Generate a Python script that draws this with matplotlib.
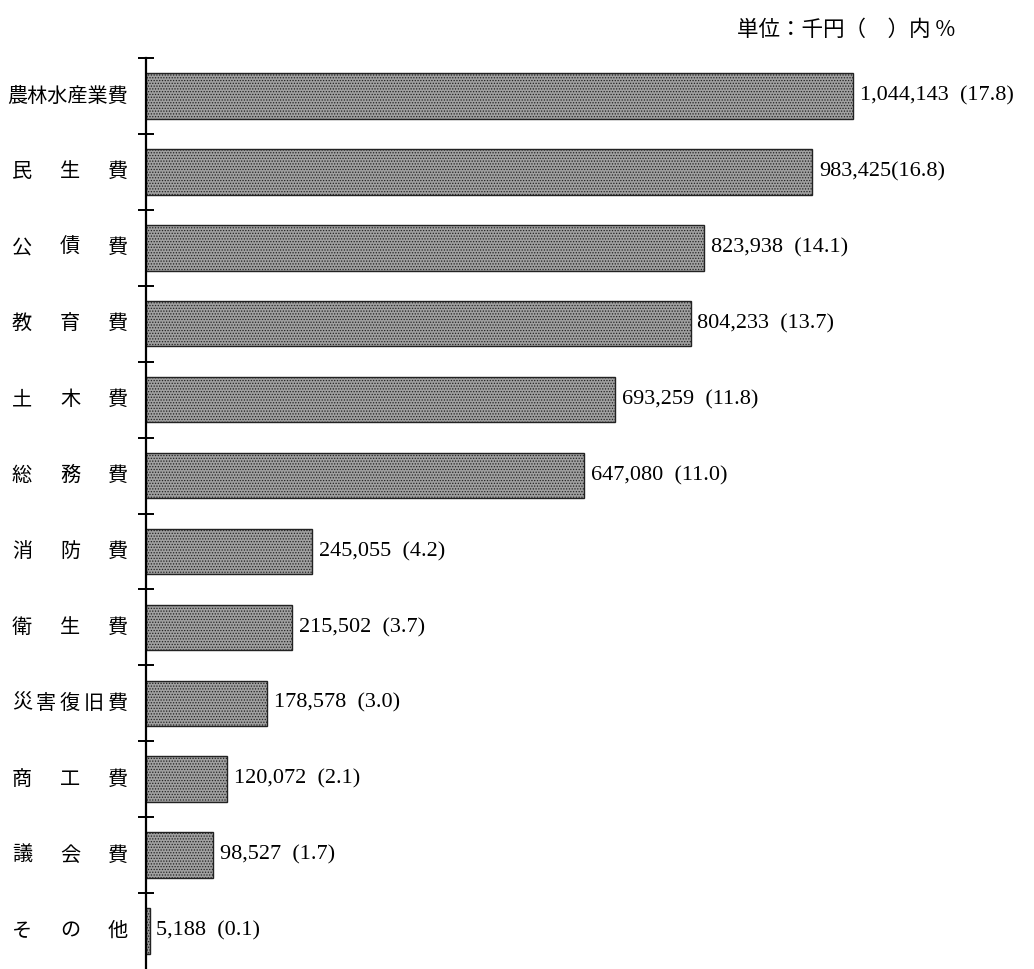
import matplotlib
matplotlib.use("Agg")
import matplotlib.pyplot as plt
import matplotlib.transforms as mtransforms

# 歳出の目的別内訳 (単位:千円, ( )内%)
categories = ["農林水産業費", "民生費", "公債費", "教育費", "土木費", "総務費",
              "消防費", "衛生費", "災害復旧費", "商工費", "議会費", "その他"]
values = [1044143, 983425, 823938, 804233, 693259, 647080,
          245055, 215502, 178578, 120072, 98527, 5188]
percents = ["17.8", "16.8", "14.1", "13.7", "11.8", "11.0",
            "4.2", "3.7", "3.0", "2.1", "1.7", "0.1"]

plt.rcParams['font.family'] = ['Noto Sans CJK JP', 'DejaVu Sans']
plt.rcParams['hatch.linewidth'] = 0.6

fig = plt.figure(figsize=(10.34, 9.69), dpi=100)
fig.patch.set_facecolor("white")
ax = fig.add_axes([146 / 1034, 0.0, 888 / 1034, 911 / 969])

ypos = list(range(len(categories)))
ax.barh(ypos, values, height=0.6, color="#a0a0a0", edgecolor="#222222",
        linewidth=1.0, hatch="......")

ax.set_xlim(0, 888 * 1044143 / 707)
ax.set_ylim(11.5, -0.5)

for sp in ["top", "right", "bottom"]:
    ax.spines[sp].set_visible(False)
ax.spines["left"].set_linewidth(1.6)
ax.set_xticks([])
ax.set_yticks([i - 0.5 for i in range(len(categories))])
ax.set_yticklabels([])
ax.tick_params(axis="y", direction="inout", length=12, width=1.4)

# value labels
for i, (v, p) in enumerate(zip(values, percents)):
    sep = "" if i == 1 else "  "
    ax.annotate(f"{v:,}{sep}({p})", (v, i), xytext=(5, 0),
                textcoords="offset points", va="center", ha="left",
                fontsize=16, family=["Liberation Serif", "DejaVu Serif"])

# category labels (均等割り)
trans = mtransforms.blended_transform_factory(fig.transFigure, ax.transData)
for i, name in enumerate(categories):
    n = len(name)
    if n == 6:
        ax.text(128 / 1034, i, name, transform=trans, ha="right",
                va="center", fontsize=14.5)
    else:
        for k, ch in enumerate(name):
            px = 22 + k * (118 - 22) / (n - 1)
            ax.text(px / 1034, i, ch, transform=trans, ha="center",
                    va="center", fontsize=14.5)

fig.text(955 / 1034, 1 - 30 / 969, "単位：千円（　）内 %", ha="right",
         va="center", fontsize=15.5)

fig.savefig("out.png", dpi=100, facecolor="white")
